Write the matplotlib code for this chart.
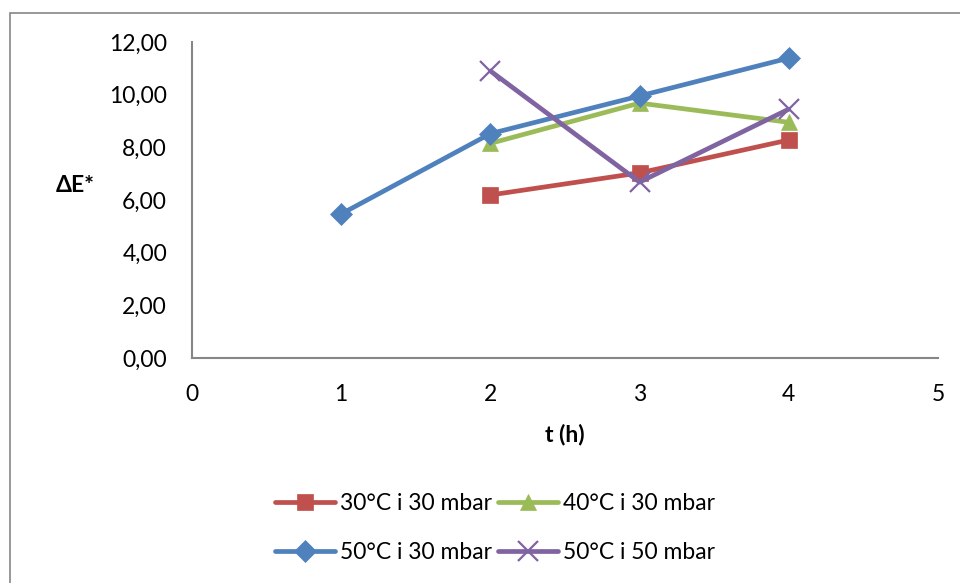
import numpy as np
import matplotlib.pyplot as plt
import matplotlib.patches as mpatches
from matplotlib.ticker import FuncFormatter

plt.rcParams['font.family'] = ['Lato', 'DejaVu Sans']

t_hours = [1, 2, 3, 4]
de_30c_30mbar = [np.nan, 6.19, 7.03, 8.28]
de_40c_30mbar = [np.nan, 8.15, 9.68, 8.95]
de_50c_30mbar = [5.47, 8.52, 9.95, 11.39]
de_50c_50mbar = [np.nan, 10.90, 6.68, 9.45]

labels = ["30°C i 30 mbar", "40°C i 30 mbar", "50°C i 30 mbar", "50°C i 50 mbar"]
colors = ["#C0504D", "#9BBB59", "#4F81BD", "#8064A2"]
markers = ["s", "^", "D", "x"]
msizes = [12, 12, 11, 15]

FS = 16.5

fig = plt.figure(figsize=(9.6, 5.83), dpi=100)
# outer chart frame
fig.patches.append(mpatches.Rectangle((10 / 960, -0.1), 1.2, 1 - 13 / 583 + 0.1,
                                      transform=fig.transFigure, fill=False,
                                      edgecolor="#868686", linewidth=1.2))
ax = fig.add_axes([192 / 960, 1 - 358 / 583, (938 - 192) / 960, (358 - 42) / 583])

lines = []
for ys, lab, c, m, ms in zip([de_30c_30mbar, de_40c_30mbar, de_50c_30mbar, de_50c_50mbar],
                             labels, colors, markers, msizes):
    ln, = ax.plot(t_hours, ys, color=c, linewidth=3.4, marker=m, markersize=ms,
                  markeredgewidth=1.6 if m == "x" else 0.5, markeredgecolor=c,
                  label=lab, solid_capstyle="round")
    lines.append(ln)

ax.set_xlim(0, 5)
ax.set_ylim(0, 12)
ax.set_xticks(range(0, 6))
ax.set_yticks(np.arange(0, 13, 2))
ax.yaxis.set_major_formatter(FuncFormatter(lambda v, p: f"{v:.2f}".replace(".", ",")))
ax.tick_params(length=0, labelsize=FS, colors="black")
ax.tick_params(axis="y", pad=18)
ax.tick_params(axis="x", pad=19)

for s in ["top", "right"]:
    ax.spines[s].set_visible(False)
for s in ["left", "bottom"]:
    ax.spines[s].set_color("#868686")
    ax.spines[s].set_linewidth(1.5)

ax.set_xlabel("t (h)", fontsize=FS, fontweight="bold", labelpad=13)
fig.text(75 / 960, 1 - 185 / 583, "ΔE*", fontsize=FS, fontweight="bold",
         ha="center", va="center")

order = [0, 2, 1, 3]
fig.legend([lines[i] for i in order], [labels[i] for i in order], ncol=2,
           loc="center", bbox_to_anchor=(495 / 960, 1 - 528 / 583), frameon=False,
           fontsize=FS, handlelength=2.6, handletextpad=0.2, columnspacing=0.3,
           labelspacing=1.2)

fig.savefig("out.png", dpi=100)
